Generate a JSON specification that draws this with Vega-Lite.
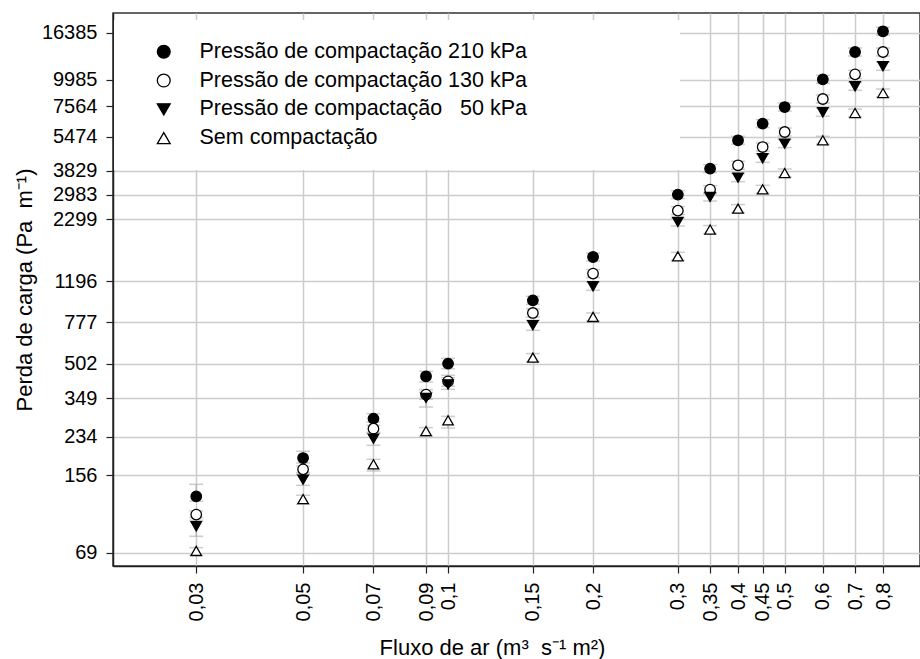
{
  "$schema": "https://vega.github.io/schema/vega-lite/v6.json",
  "width": 807,
  "height": 553,
  "autosize": {"type": "none"},
  "padding": {"left": 113, "top": 13, "right": 0, "bottom": 93},
  "background": "white",
  "config": {
    "font": "Liberation Sans",
    "view": {"stroke": "#333333", "strokeWidth": 1.5},
    "axis": {
      "labelFontSize": 20,
      "labelColor": "black",
      "titleFontSize": 22,
      "titleFontWeight": "normal",
      "titleColor": "black",
      "tickSize": 7,
      "tickColor": "#222222",
      "tickWidth": 1.2,
      "domainColor": "#222222",
      "domainWidth": 1.5,
      "grid": true,
      "gridColor": "#cccccc",
      "gridWidth": 1.5,
      "labelOverlap": false,
      "labelFlush": false,
      "labelBound": false
    },
    "legend": {
      "orient": "none",
      "legendX": 1,
      "legendY": 7,
      "fillColor": "white",
      "padding": 21,
      "symbolOffset": 18,
      "labelFontSize": 21.5,
      "labelColor": "black",
      "labelLimit": 800,
      "labelOffset": 25,
      "rowPadding": 5.8,
      "symbolSize": 165,
      "symbolStrokeWidth": 1.3,
      "title": null
    }
  },
  "data": {
    "values": [
      {"x": 0.03, "g": "Pressão de compactação 210 kPa", "v": 124.7, "lo": 118.4, "hi": 141.5},
      {"x": 0.03, "g": "Pressão de compactação 130 kPa", "v": 102.9, "lo": 99.7, "hi": 106.9},
      {"x": 0.03, "g": "Pressão de compactação\u00a0\u00a0\u00a050 kPa", "v": 91.0, "lo": 81.9, "hi": 96.9},
      {"x": 0.03, "g": "Sem compactação", "v": 70.2, "lo": 67.1, "hi": 72.7},
      {"x": 0.05, "g": "Pressão de compactação 210 kPa", "v": 186.6, "lo": 177.1, "hi": 200.3},
      {"x": 0.05, "g": "Pressão de compactação 130 kPa", "v": 165.7, "lo": 159.7, "hi": 171.6},
      {"x": 0.05, "g": "Pressão de compactação\u00a0\u00a0\u00a050 kPa", "v": 148.7, "lo": 140.0, "hi": 157.2},
      {"x": 0.05, "g": "Sem compactação", "v": 121.2, "lo": 114.7, "hi": 126.1},
      {"x": 0.07, "g": "Pressão de compactação 210 kPa", "v": 282.5, "lo": 272.5, "hi": 297.7},
      {"x": 0.07, "g": "Pressão de compactação 130 kPa", "v": 254.2, "lo": 244.5, "hi": 263.2},
      {"x": 0.07, "g": "Pressão de compactação\u00a0\u00a0\u00a050 kPa", "v": 228.8, "lo": 213.3, "hi": 242.0},
      {"x": 0.07, "g": "Sem compactação", "v": 174.7, "lo": 162.8, "hi": 184.1},
      {"x": 0.09, "g": "Pressão de compactação 210 kPa", "v": 440.9, "lo": 415.0, "hi": 464.5},
      {"x": 0.09, "g": "Pressão de compactação 130 kPa", "v": 363.6, "lo": 346.1, "hi": 383.1},
      {"x": 0.09, "g": "Pressão de compactação\u00a0\u00a0\u00a050 kPa", "v": 350.9, "lo": 319.1, "hi": 372.4},
      {"x": 0.09, "g": "Sem compactação", "v": 247.9, "lo": 234.5, "hi": 256.9},
      {"x": 0.1, "g": "Pressão de compactação 210 kPa", "v": 503.8, "lo": 476.9, "hi": 532.5},
      {"x": 0.1, "g": "Pressão de compactação 130 kPa", "v": 418.1, "lo": 396.7, "hi": 445.6},
      {"x": 0.1, "g": "Pressão de compactação\u00a0\u00a0\u00a050 kPa", "v": 405.0, "lo": 384.4, "hi": 434.9},
      {"x": 0.1, "g": "Sem compactação", "v": 277.5, "lo": 255.9, "hi": 289.3},
      {"x": 0.15, "g": "Pressão de compactação 210 kPa", "v": 980, "lo": 940, "hi": 1022},
      {"x": 0.15, "g": "Pressão de compactação 130 kPa", "v": 858, "lo": 823, "hi": 895},
      {"x": 0.15, "g": "Pressão de compactação\u00a0\u00a0\u00a050 kPa", "v": 754, "lo": 715, "hi": 795},
      {"x": 0.15, "g": "Sem compactação", "v": 536.5, "lo": 515, "hi": 560},
      {"x": 0.2, "g": "Pressão de compactação 210 kPa", "v": 1546, "lo": 1482, "hi": 1612},
      {"x": 0.2, "g": "Pressão de compactação 130 kPa", "v": 1298, "lo": 1245, "hi": 1354},
      {"x": 0.2, "g": "Pressão de compactação\u00a0\u00a0\u00a050 kPa", "v": 1136, "lo": 1089, "hi": 1185},
      {"x": 0.2, "g": "Sem compactação", "v": 823, "lo": 789, "hi": 858},
      {"x": 0.3, "g": "Pressão de compactação 210 kPa", "v": 2980, "lo": 2857, "hi": 3108},
      {"x": 0.3, "g": "Pressão de compactação 130 kPa", "v": 2518, "lo": 2414, "hi": 2626},
      {"x": 0.3, "g": "Pressão de compactação\u00a0\u00a0\u00a050 kPa", "v": 2234, "lo": 2142, "hi": 2330},
      {"x": 0.3, "g": "Sem compactação", "v": 1557, "lo": 1493, "hi": 1624},
      {"x": 0.35, "g": "Pressão de compactação 210 kPa", "v": 3918, "lo": 3757, "hi": 4086},
      {"x": 0.35, "g": "Pressão de compactação 130 kPa", "v": 3141, "lo": 3012, "hi": 3276},
      {"x": 0.35, "g": "Pressão de compactação\u00a0\u00a0\u00a050 kPa", "v": 2906, "lo": 2786, "hi": 3031},
      {"x": 0.35, "g": "Sem compactação", "v": 2063, "lo": 1978, "hi": 2152},
      {"x": 0.4, "g": "Pressão de compactação 210 kPa", "v": 5277, "lo": 5060, "hi": 5504},
      {"x": 0.4, "g": "Pressão de compactação 130 kPa", "v": 4057, "lo": 3890, "hi": 4231},
      {"x": 0.4, "g": "Pressão de compactação\u00a0\u00a0\u00a050 kPa", "v": 3563, "lo": 3416, "hi": 3716},
      {"x": 0.4, "g": "Sem compactação", "v": 2572, "lo": 2466, "hi": 2683},
      {"x": 0.45, "g": "Pressão de compactação 210 kPa", "v": 6289, "lo": 6030, "hi": 6559},
      {"x": 0.45, "g": "Pressão de compactação 130 kPa", "v": 4916, "lo": 4713, "hi": 5127},
      {"x": 0.45, "g": "Pressão de compactação\u00a0\u00a0\u00a050 kPa", "v": 4366, "lo": 4186, "hi": 4554},
      {"x": 0.45, "g": "Sem compactação", "v": 3151, "lo": 3021, "hi": 3286},
      {"x": 0.5, "g": "Pressão de compactação 210 kPa", "v": 7486, "lo": 7178, "hi": 7808},
      {"x": 0.5, "g": "Pressão de compactação 130 kPa", "v": 5757, "lo": 5520, "hi": 6004},
      {"x": 0.5, "g": "Pressão de compactação\u00a0\u00a0\u00a050 kPa", "v": 5096, "lo": 4886, "hi": 5315},
      {"x": 0.5, "g": "Sem compactação", "v": 3740, "lo": 3586, "hi": 3901},
      {"x": 0.6, "g": "Pressão de compactação 210 kPa", "v": 10023, "lo": 9610, "hi": 10454},
      {"x": 0.6, "g": "Pressão de compactação 130 kPa", "v": 8147, "lo": 7811, "hi": 8497},
      {"x": 0.6, "g": "Pressão de compactação\u00a0\u00a0\u00a050 kPa", "v": 7083, "lo": 6791, "hi": 7388},
      {"x": 0.6, "g": "Sem compactação", "v": 5277, "lo": 5060, "hi": 5504},
      {"x": 0.7, "g": "Pressão de compactação 210 kPa", "v": 13358, "lo": 12807, "hi": 13932},
      {"x": 0.7, "g": "Pressão de compactação 130 kPa", "v": 10563, "lo": 10128, "hi": 11017},
      {"x": 0.7, "g": "Pressão de compactação\u00a0\u00a0\u00a050 kPa", "v": 9311, "lo": 8927, "hi": 9711},
      {"x": 0.7, "g": "Sem compactação", "v": 7031, "lo": 6741, "hi": 7333},
      {"x": 0.8, "g": "Pressão de compactação 210 kPa", "v": 16608, "lo": 15923, "hi": 17322},
      {"x": 0.8, "g": "Pressão de compactação 130 kPa", "v": 13358, "lo": 12807, "hi": 13932},
      {"x": 0.8, "g": "Pressão de compactação\u00a0\u00a0\u00a050 kPa", "v": 11493, "lo": 11019, "hi": 11987},
      {"x": 0.8, "g": "Sem compactação", "v": 8678, "lo": 8320, "hi": 9051}
    ]
  },
  "encoding": {
    "x": {
      "field": "x",
      "type": "quantitative",
      "scale": {"type": "log", "domain": [0.02015, 0.9548], "nice": false},
      "title": "Fluxo de ar (m³\u00a0\u00a0s⁻¹ m²)",
      "axis": {
        "values": [0.03, 0.05, 0.07, 0.09, 0.1, 0.15, 0.2, 0.3, 0.35, 0.4, 0.45, 0.5, 0.6, 0.7, 0.8],
        "format": ".2~f",
        "labelExpr": "replace(datum.label, '.', ',')",
        "labelAngle": 270,
        "labelPadding": 9,
        "titleX": 379,
        "titleY": 88,
        "titleAlign": "center",
        "titleBaseline": "alphabetic"
      }
    }
  },
  "layer": [
    {
      "mark": {
        "type": "errorbar",
        "ticks": {"size": 14, "color": "#b8b8b8", "thickness": 1.5},
        "rule": {"color": "#b8b8b8", "strokeWidth": 1.5}
      },
      "encoding": {
        "y": {
          "field": "lo",
          "type": "quantitative",
          "scale": {"type": "log", "domain": [59.93, 20130], "nice": false},
          "title": "Perda de carga (Pa\u00a0\u00a0m⁻¹)"
        },
        "y2": {"field": "hi"}
      }
    },
    {
      "mark": {"type": "point", "filled": false, "size": 110, "color": "black", "stroke": "black", "strokeWidth": 1.3, "opacity": 1},
      "encoding": {
        "y": {
          "field": "v",
          "type": "quantitative",
          "scale": {"type": "log", "domain": [59.93, 20130], "nice": false},
          "title": "Perda de carga (Pa\u00a0\u00a0m⁻¹)",
          "axis": {
            "values": [69, 156, 234, 349, 502, 777, 1196, 2299, 2983, 3829, 5474, 7564, 9985, 16385],
            "format": "d",
            "labelPadding": 9,
            "titleX": -82,
            "titleBaseline": "alphabetic"
          }
        },
        "shape": {
          "field": "g",
          "type": "nominal",
          "scale": {
            "domain": ["Pressão de compactação 210 kPa", "Pressão de compactação 130 kPa", "Pressão de compactação\u00a0\u00a0\u00a050 kPa", "Sem compactação"],
            "range": ["circle", "circle", "triangle-down", "triangle-up"]
          },
          "legend": {
            "labelExpr": "datum.label + '\u00a0\u00a0\u00a0\u00a0\u00a0\u00a0\u00a0\u00a0\u00a0\u00a0\u00a0\u00a0\u00a0\u00a0\u00a0\u00a0\u00a0\u00a0\u00a0\u00a0\u00a0\u00a0\u200b'",
            "encode": {"symbols": {"update": {"stroke": {"value": "black"}, "strokeWidth": {"value": 1.3}, "opacity": {"value": 1}}}}
          }
        },
        "fill": {
          "field": "g",
          "type": "nominal",
          "scale": {
            "domain": ["Pressão de compactação 210 kPa", "Pressão de compactação 130 kPa", "Pressão de compactação\u00a0\u00a0\u00a050 kPa", "Sem compactação"],
            "range": ["black", "white", "black", "white"]
          },
          "legend": {
            "labelExpr": "datum.label + '\u00a0\u00a0\u00a0\u00a0\u00a0\u00a0\u00a0\u00a0\u00a0\u00a0\u00a0\u00a0\u00a0\u00a0\u00a0\u00a0\u00a0\u00a0\u00a0\u00a0\u00a0\u00a0\u200b'",
            "encode": {"symbols": {"update": {"stroke": {"value": "black"}, "strokeWidth": {"value": 1.3}, "opacity": {"value": 1}}}}
          }
        }
      }
    }
  ]
}
